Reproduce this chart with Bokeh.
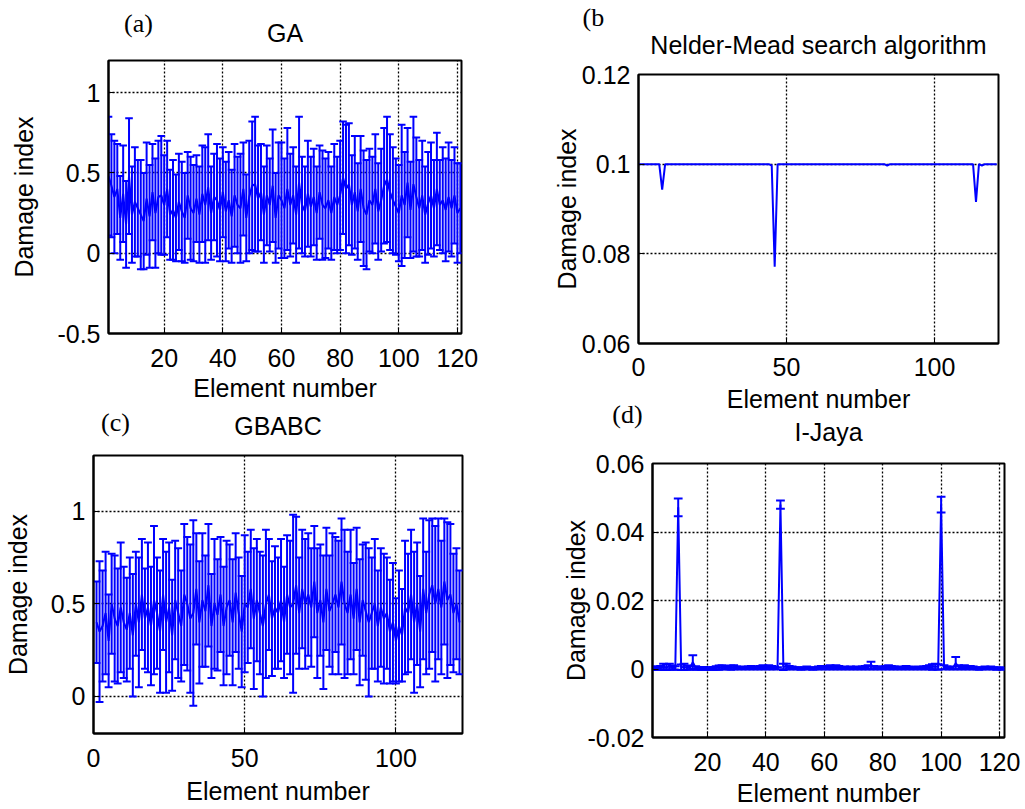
from bokeh.plotting import figure
from bokeh.models import Range1d, FixedTicker, Label, ColumnDataSource
from bokeh.embed import file_html
from bokeh.resources import INLINE

# ---------------- data ----------------
elements = list(range(1, 122))

# (a) GA: mean damage index and error half-width per element
ga_mean = [0.48, 0.42, 0.35, 0.40, 0.22, 0.37, 0.18, 0.48, 0.24, 0.32,
           0.28, 0.24, 0.20, 0.34, 0.23, 0.38, 0.25, 0.35, 0.36, 0.30,
           0.40, 0.24, 0.27, 0.22, 0.32, 0.26, 0.22, 0.36, 0.28, 0.25,
           0.34, 0.24, 0.37, 0.30, 0.41, 0.25, 0.35, 0.33, 0.27, 0.38,
           0.26, 0.33, 0.23, 0.36, 0.30, 0.28, 0.40, 0.22, 0.35, 0.42,
           0.43, 0.34, 0.38, 0.24, 0.36, 0.30, 0.42, 0.22, 0.36, 0.33,
           0.28, 0.40, 0.30, 0.36, 0.24, 0.44, 0.30, 0.26, 0.37, 0.29,
           0.35, 0.25, 0.38, 0.30, 0.28, 0.33, 0.25, 0.35, 0.30, 0.36,
           0.47, 0.40, 0.43, 0.30, 0.38, 0.26, 0.40, 0.28, 0.24, 0.33,
           0.30, 0.40, 0.26, 0.33, 0.42, 0.46, 0.38, 0.33, 0.29, 0.25,
           0.36, 0.30, 0.44, 0.27, 0.43, 0.35, 0.28, 0.36, 0.24, 0.31,
           0.36, 0.28, 0.40, 0.30, 0.33, 0.27, 0.35, 0.28, 0.36, 0.25, 0.28]
ga_err = [0.37, 0.32, 0.35, 0.28, 0.26, 0.30, 0.27, 0.36, 0.30, 0.34,
          0.30, 0.34, 0.30, 0.35, 0.32, 0.30, 0.34, 0.35, 0.37, 0.31,
          0.30, 0.28, 0.31, 0.27, 0.30, 0.31, 0.28, 0.27, 0.32, 0.30,
          0.27, 0.30, 0.30, 0.36, 0.33, 0.29, 0.27, 0.35, 0.32, 0.28,
          0.31, 0.30, 0.29, 0.32, 0.30, 0.34, 0.29, 0.27, 0.35, 0.40,
          0.42, 0.33, 0.30, 0.30, 0.31, 0.29, 0.35, 0.28, 0.33, 0.36,
          0.31, 0.38, 0.32, 0.30, 0.30, 0.41, 0.30, 0.28, 0.33, 0.31,
          0.30, 0.29, 0.29, 0.34, 0.31, 0.30, 0.29, 0.33, 0.30, 0.34,
          0.35, 0.40, 0.38, 0.31, 0.35, 0.30, 0.33, 0.36, 0.34, 0.32,
          0.30, 0.34, 0.30, 0.32, 0.36, 0.39, 0.36, 0.33, 0.30, 0.30,
          0.44, 0.33, 0.34, 0.30, 0.42, 0.37, 0.30, 0.34, 0.30, 0.32,
          0.33, 0.30, 0.35, 0.28, 0.33, 0.32, 0.34, 0.30, 0.30, 0.31, 0.28]

# (b) Nelder-Mead: damage index at the elements where the curve changes
nm_elements = [0, 7, 8, 9, 44, 45, 46, 47, 83, 84, 85, 113, 114, 115, 116, 117, 121]
nm_values = [0.1, 0.1, 0.0943, 0.1, 0.1, 0.0997, 0.0771, 0.1, 0.1, 0.0997, 0.1,
             0.1, 0.0916, 0.1, 0.0997, 0.1, 0.1]

# (c) GBABC
gb_mean = [0.40, 0.35, 0.38, 0.45, 0.30, 0.50, 0.42, 0.38, 0.48, 0.40,
           0.36, 0.45, 0.33, 0.50, 0.40, 0.55, 0.42, 0.48, 0.38, 0.52,
           0.45, 0.35, 0.55, 0.40, 0.48, 0.33, 0.52, 0.45, 0.38, 0.55,
           0.50, 0.42, 0.45, 0.58, 0.40, 0.52, 0.46, 0.60, 0.38, 0.50,
           0.44, 0.55, 0.38, 0.48, 0.52, 0.40, 0.56, 0.45, 0.35, 0.50,
           0.48, 0.58, 0.42, 0.52, 0.45, 0.38, 0.50, 0.55, 0.42, 0.48,
           0.45, 0.52, 0.40, 0.55, 0.48, 0.50, 0.60, 0.45, 0.58, 0.50,
           0.55, 0.48, 0.62, 0.45, 0.52, 0.40, 0.58, 0.46, 0.50, 0.55,
           0.48, 0.62, 0.50, 0.45, 0.55, 0.42, 0.58, 0.40, 0.52, 0.46,
           0.40, 0.45, 0.50, 0.38, 0.48, 0.42, 0.45, 0.35, 0.40, 0.30,
           0.38, 0.33, 0.48, 0.45, 0.55, 0.40, 0.50, 0.35, 0.58, 0.45,
           0.55, 0.60, 0.50, 0.58, 0.48, 0.62, 0.52, 0.55, 0.45, 0.50, 0.40]
gb_err = [0.22, 0.38, 0.30, 0.33, 0.25, 0.27, 0.34, 0.31, 0.35, 0.30,
          0.28, 0.30, 0.33, 0.28, 0.35, 0.30, 0.27, 0.35, 0.32, 0.40,
          0.30, 0.33, 0.30, 0.38, 0.35, 0.30, 0.32, 0.35, 0.30, 0.38,
          0.36, 0.40, 0.50, 0.30, 0.33, 0.36, 0.30, 0.33, 0.28, 0.35,
          0.30, 0.31, 0.32, 0.36, 0.30, 0.34, 0.32, 0.30, 0.30, 0.37,
          0.30, 0.32, 0.38, 0.33, 0.33, 0.38, 0.40, 0.30, 0.31, 0.33,
          0.30, 0.33, 0.30, 0.32, 0.36, 0.48, 0.37, 0.30, 0.32, 0.35,
          0.33, 0.32, 0.30, 0.35, 0.30, 0.36, 0.33, 0.30, 0.38, 0.31,
          0.36, 0.34, 0.40, 0.33, 0.35, 0.30, 0.33, 0.34, 0.30, 0.37,
          0.40, 0.30, 0.35, 0.30, 0.32, 0.35, 0.30, 0.28, 0.32, 0.23,
          0.30, 0.25, 0.36, 0.32, 0.35, 0.38, 0.33, 0.30, 0.38, 0.33,
          0.40, 0.36, 0.42, 0.38, 0.36, 0.34, 0.42, 0.38, 0.32, 0.30, 0.28]

# (d) I-Jaya
ij_mean = [0.0002, 0.0003, 0.0002, 0.0004, 0.0006, 0.0005, 0.0007, 0.0004, 0.0003, 0.0472,
           0.0005, 0.0006, 0.0004, 0.0003, 0.0020, 0.0003, 0.0002, 0.0001, 0.0002, 0.0001,
           0.0001, 0.0002, 0.0003, 0.0004, 0.0005, 0.0004, 0.0003, 0.0004, 0.0005, 0.0003,
           0.0002, 0.0003, 0.0002, 0.0003, 0.0004, 0.0003, 0.0002, 0.0004, 0.0005, 0.0004,
           0.0005, 0.0004, 0.0003, 0.0002, 0.0480, 0.0006, 0.0007, 0.0004, 0.0003, 0.0002,
           0.0002, 0.0001, 0.0002, 0.0003, 0.0002, 0.0001, 0.0002, 0.0003, 0.0004, 0.0003,
           0.0004, 0.0005, 0.0004, 0.0005, 0.0004, 0.0002, 0.0003, 0.0002, 0.0003, 0.0002,
           0.0003, 0.0002, 0.0003, 0.0004, 0.0005, 0.0010, 0.0004, 0.0003, 0.0002, 0.0003,
           0.0004, 0.0005, 0.0004, 0.0003, 0.0002, 0.0003, 0.0002, 0.0004, 0.0003, 0.0002,
           0.0002, 0.0003, 0.0002, 0.0003, 0.0004, 0.0005, 0.0006, 0.0007, 0.0006, 0.0480,
           0.0005, 0.0003, 0.0002, 0.0003, 0.0017, 0.0005, 0.0004, 0.0005, 0.0003, 0.0004,
           0.0003, 0.0002, 0.0001, 0.0002, 0.0003, 0.0002, 0.0003, 0.0002, 0.0001, 0.0002, 0.0001]
ij_err = [0.0004, 0.0005, 0.0004, 0.0005, 0.0009, 0.0008, 0.0008, 0.0006, 0.0005, 0.0026,
          0.0008, 0.0009, 0.0006, 0.0005, 0.0020, 0.0005, 0.0004, 0.0003, 0.0004, 0.0003,
          0.0003, 0.0004, 0.0005, 0.0006, 0.0006, 0.0005, 0.0004, 0.0006, 0.0006, 0.0004,
          0.0003, 0.0004, 0.0003, 0.0004, 0.0005, 0.0004, 0.0003, 0.0005, 0.0006, 0.0005,
          0.0006, 0.0005, 0.0004, 0.0003, 0.0012, 0.0009, 0.0008, 0.0005, 0.0004, 0.0003,
          0.0003, 0.0003, 0.0003, 0.0004, 0.0003, 0.0003, 0.0003, 0.0004, 0.0005, 0.0004,
          0.0005, 0.0006, 0.0005, 0.0006, 0.0005, 0.0003, 0.0004, 0.0003, 0.0004, 0.0003,
          0.0004, 0.0003, 0.0004, 0.0005, 0.0006, 0.0011, 0.0005, 0.0004, 0.0003, 0.0004,
          0.0005, 0.0006, 0.0005, 0.0004, 0.0003, 0.0004, 0.0003, 0.0005, 0.0004, 0.0003,
          0.0003, 0.0004, 0.0003, 0.0004, 0.0005, 0.0006, 0.0008, 0.0008, 0.0008, 0.0023,
          0.0006, 0.0004, 0.0003, 0.0004, 0.0018, 0.0006, 0.0005, 0.0006, 0.0004, 0.0005,
          0.0004, 0.0003, 0.0003, 0.0003, 0.0004, 0.0003, 0.0004, 0.0003, 0.0003, 0.0003, 0.0003]

# axis ticks and tick labels
a_xticks = [20, 40, 60, 80, 100, 120]
a_yticks = [-0.5, 0, 0.5, 1]
a_ylabels = ["-0.5", "0", "0.5", "1"]
b_xticks = [0, 50, 100]
b_yticks = [0.06, 0.08, 0.1, 0.12]
b_ylabels = ["0.06", "0.08", "0.1", "0.12"]
c_xticks = [0, 50, 100]
c_yticks = [0, 0.5, 1]
c_ylabels = ["0", "0.5", "1"]
d_xticks = [20, 40, 60, 80, 100, 120]
d_yticks = [-0.02, 0, 0.02, 0.04, 0.06]
d_ylabels = ["-0.02", "0", "0.02", "0.04", "0.06"]

titles = ["GA", "Nelder-Mead search algorithm", "GBABC", "I-Jaya"]
letters = ["(a)", "(b", "(c)", "(d)"]
XLABEL = "Element number"
YLABEL = "Damage index"

# ---------------- style ----------------
BLUE = "#0000ff"
SANS = "Liberation Sans"
SERIF = "Liberation Serif"
FS = "25px"
LW = 2.0


def make_fig(name, w, h, bl, br, bt, bb, xr, yr, xticks, yticks, ylabels, title,
             title_standoff, ylab_standoff, xtick_standoff, xlab_standoff):
    p = figure(name=name, width=w, height=h, output_backend="svg", toolbar_location=None,
               x_range=Range1d(*xr), y_range=Range1d(*yr),
               min_border_left=bl, min_border_right=br,
               min_border_top=bt, min_border_bottom=bb, title=title)
    p.border_fill_color = None
    p.title.align = "center"
    p.title.text_font = SANS
    p.title.text_font_size = FS
    p.title.text_font_style = "normal"
    p.title.text_color = "black"
    p.title.standoff = title_standoff
    p.outline_line_color = "black"
    p.outline_line_width = 2
    p.outline_line_alpha = 1
    p.xaxis.ticker = FixedTicker(ticks=xticks)
    p.yaxis.ticker = FixedTicker(ticks=yticks)
    p.yaxis.major_label_overrides = {t: s for t, s in zip(yticks, ylabels)}
    p.xaxis.major_label_overrides = {t: str(t) for t in xticks}
    for ax in (p.xaxis[0], p.yaxis[0]):
        ax.major_label_text_font = SANS
        ax.major_label_text_font_size = FS
        ax.major_label_text_color = "black"
        ax.axis_label_text_font = SANS
        ax.axis_label_text_font_size = FS
        ax.axis_label_text_font_style = "normal"
        ax.axis_label_text_color = "black"
        ax.axis_line_color = "black"
        ax.axis_line_width = 2
        ax.major_tick_in = 6
        ax.major_tick_out = 0
        ax.major_tick_line_color = "black"
        ax.minor_tick_line_color = None
    p.xaxis.axis_label = XLABEL
    p.yaxis.axis_label = YLABEL
    p.yaxis.major_label_standoff = 8
    p.yaxis.axis_label_standoff = ylab_standoff
    p.xaxis.major_label_standoff = xtick_standoff
    p.xaxis.axis_label_standoff = xlab_standoff
    p.grid.grid_line_color = "black"
    p.grid.grid_line_dash = "2 2"
    p.grid.grid_line_width = 1.3
    p.grid.grid_line_alpha = 1
    return p


def add_errorbars(p, xs, mean, err, cap):
    src = ColumnDataSource(dict(
        x=xs, m=mean,
        lo=[m - e for m, e in zip(mean, err)],
        hi=[m + e for m, e in zip(mean, err)],
        xl=[x - cap for x in xs], xr=[x + cap for x in xs]))
    p.segment(x0="x", y0="lo", x1="x", y1="hi", source=src, line_color=BLUE, line_width=LW)
    p.segment(x0="xl", y0="hi", x1="xr", y1="hi", source=src, line_color=BLUE, line_width=LW)
    p.segment(x0="xl", y0="lo", x1="xr", y1="lo", source=src, line_color=BLUE, line_width=LW)
    p.line(x="x", y="m", source=src, line_color=BLUE, line_width=LW)


def add_letter(p, text, x, y, align="center"):
    # placed in the right side panel so that it is not clipped to the frame
    p.add_layout(Label(x=x, y=y, x_units="screen", y_units="screen", text=text,
                       text_font=SERIF, text_font_size="26px", text_color="black",
                       text_align=align, text_baseline="middle"), "right")


# (a)  page position (0, 0)
pa = make_fig("pa", 520, 410, 108, 59, 60, 77, (1, 121.4), (-0.5, 1.2),
              a_xticks, a_yticks, a_ylabels, titles[0], 28, 16, 15, 4)
add_errorbars(pa, elements, ga_mean, ga_err, 1.3)
add_letter(pa, letters[0], -323, 310)

# (b)  page position (520, 0)
pb = make_fig("pb", 505, 425, 118, 27, 74, 82, (0, 121.6), (0.06, 0.12),
              b_xticks, b_yticks, b_ylabels, titles[1], 32, -2, 14, 6)
pb.line(x=nm_elements, y=nm_values, line_color=BLUE, line_width=2.0)
add_letter(pb, letters[1], -416, 326, "left")

# (c)  page position (0, 390)
pc = make_fig("pc", 520, 419, 91, 58, 65, 76, (0, 122), (-0.2, 1.3),
              c_xticks, c_yticks, c_ylabels, titles[2], 32, 16, 15, 7)
add_errorbars(pc, elements, gb_mean, gb_err, 1.3)
add_letter(pc, letters[2], -347, 311)

# (d)  page position (520, 395)
pd = make_fig("pd", 514, 414, 132, 30, 68, 70, (1.2, 121.7), (-0.02, 0.06),
              d_xticks, d_yticks, d_ylabels, titles[3], 36, -5, 15, 5)
add_errorbars(pd, elements, ij_mean, ij_err, 1.5)
add_letter(pd, letters[3], -377, 323)

TEMPLATE = """
{% block preamble %}
<style>html, body { margin: 0; padding: 0; overflow: hidden; }</style>
{% endblock %}
{% block contents %}
{% from macros import embed %}
<div style="position: absolute; left: 0px; top: 0px;">{{ embed(roots.pa) }}</div>
<div style="position: absolute; left: 520px; top: 0px;">{{ embed(roots.pb) }}</div>
<div style="position: absolute; left: 0px; top: 390px;">{{ embed(roots.pc) }}</div>
<div style="position: absolute; left: 520px; top: 395px;">{{ embed(roots.pd) }}</div>
{% endblock %}
"""

open("out.html", "w").write(file_html([pa, pb, pc, pd], INLINE, template=TEMPLATE))
